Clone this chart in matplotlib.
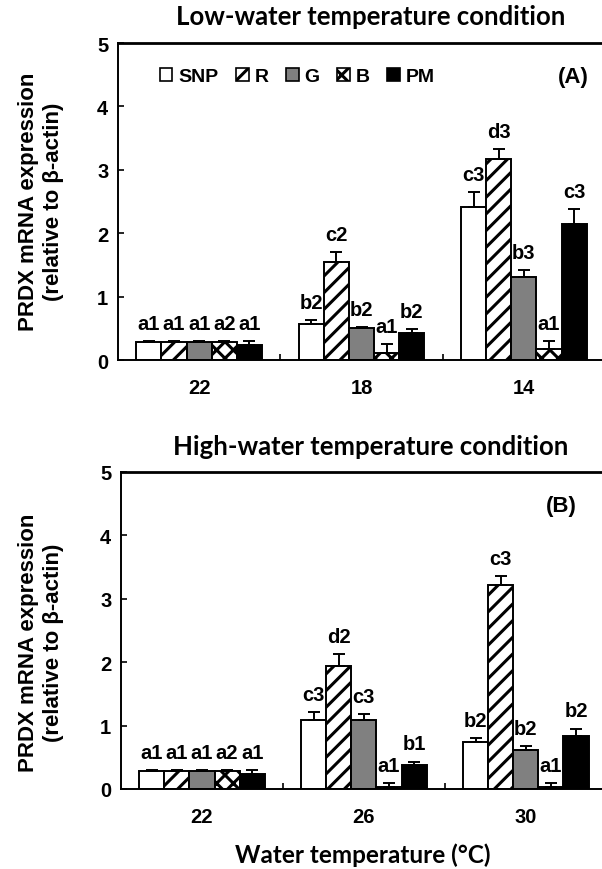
import numpy as np
import matplotlib
matplotlib.use("Agg")
import matplotlib.pyplot as plt
from matplotlib.patches import Patch

plt.rcParams['font.family'] = ['Liberation Sans', 'DejaVu Sans']
plt.rcParams['hatch.linewidth'] = 2.2

series = ['SNP', 'R', 'G', 'B', 'PM']
colors = ['white', 'white', '#808080', 'white', 'black']
hatches = [None, '//', None, 'xx', None]

# Low-water temperature condition (A)
low_temps = ['22', '18', '14']
low_vals = {
    'SNP': [0.28, 0.57, 2.41],
    'R': [0.28, 1.55, 3.17],
    'G': [0.28, 0.50, 1.31],
    'B': [0.28, 0.11, 0.17],
    'PM': [0.24, 0.43, 2.15],
}
low_err = {
    'SNP': [0.02, 0.06, 0.24],
    'R': [0.02, 0.15, 0.16],
    'G': [0.02, 0.02, 0.11],
    'B': [0.02, 0.14, 0.13],
    'PM': [0.06, 0.06, 0.23],
}
low_letters = {
    'SNP': ['a1', 'b2', 'c3'],
    'R': ['a1', 'c2', 'd3'],
    'G': ['a1', 'b2', 'b3'],
    'B': ['a2', 'a1', 'a1'],
    'PM': ['a1', 'b2', 'c3'],
}

# High-water temperature condition (B)
high_temps = ['22', '26', '30']
high_vals = {
    'SNP': [0.28, 1.09, 0.74],
    'R': [0.28, 1.94, 3.22],
    'G': [0.28, 1.09, 0.61],
    'B': [0.28, 0.03, 0.03],
    'PM': [0.24, 0.38, 0.83],
}
high_err = {
    'SNP': [0.02, 0.12, 0.06],
    'R': [0.02, 0.19, 0.14],
    'G': [0.02, 0.09, 0.07],
    'B': [0.02, 0.06, 0.06],
    'PM': [0.06, 0.05, 0.12],
}
high_letters = {
    'SNP': ['a1', 'c3', 'b2'],
    'R': ['a1', 'd2', 'c3'],
    'G': ['a1', 'c3', 'b2'],
    'B': ['a2', 'a1', 'a1'],
    'PM': ['a1', 'b1', 'b2'],
}


def draw_panel(ax, temps, vals, errs, letters, tag, tag_x):
    x = np.arange(len(temps))
    w = 0.155
    for i, s in enumerate(series):
        xs = x + (i - 2) * w
        v = np.array(vals[s])
        e = np.array(errs[s])
        ax.bar(xs, v, w, color=colors[i], edgecolor='black', linewidth=1.4,
               hatch=hatches[i], zorder=2)
        ax.errorbar(xs, v, yerr=[np.zeros_like(e), e], fmt='none', ecolor='black',
                    elinewidth=1.4, capsize=4, capthick=1.4, zorder=3)
        for xi, yi, t in zip(xs, v + e, letters[s]):
            ax.annotate(t, (xi, yi), xytext=(0, 6), textcoords='offset points',
                        ha='center', va='bottom', fontsize=14.5, fontweight='bold')
    ax.set_xlim(-0.5, 2.5)
    ax.set_ylim(0, 5)
    ax.set_yticks(range(6))
    ax.set_xticks(x)
    ax.set_xticklabels(temps)
    ax.set_xticks([0.5, 1.5], minor=True)
    ax.tick_params(axis='x', which='major', length=0, pad=13, labelsize=14.5)
    ax.tick_params(axis='x', which='minor', direction='in', length=4, width=1.2)
    ax.tick_params(axis='y', direction='in', length=4, width=1.2, pad=7, labelsize=14.5)
    for lab in ax.get_xticklabels() + ax.get_yticklabels():
        lab.set_fontweight('bold')
    for sp in ['left', 'bottom']:
        ax.spines[sp].set_linewidth(1.4)
    ax.spines['top'].set_linewidth(2)
    ax.spines['right'].set_visible(False)
    ax.text(tag_x, 0.895, tag, transform=ax.transAxes, ha='center', va='center',
            fontsize=16, fontweight='bold')


fig = plt.figure(figsize=(6.02, 8.70), dpi=100)
ax1 = fig.add_axes([0.196, 0.585, 0.809, 0.3644])
ax2 = fig.add_axes([0.201, 0.092, 0.807, 0.3644])

draw_panel(ax1, low_temps, low_vals, low_err, low_letters, '(A)', 0.934)
draw_panel(ax2, high_temps, high_vals, high_err, high_letters, '(B)', 0.907)

handles = [Patch(facecolor=colors[i], edgecolor='black', hatch=hatches[i], linewidth=1.2)
           for i in range(len(series))]
ax1.legend(handles, series, ncol=5, loc='center left', bbox_to_anchor=(0.07, 0.895),
           frameon=False, handlelength=0.65, handleheight=0.65, handletextpad=0.3,
           columnspacing=0.9, borderaxespad=0, prop={'size': 14, 'weight': 'bold'})

fig.text(0.616, 0.980, 'Low-water temperature condition', ha='center', va='center',
         fontsize=18.5, fontweight='bold', family=['Lato', 'DejaVu Sans'])
fig.text(0.615, 0.486, 'High-water temperature condition', ha='center', va='center',
         fontsize=18.5, fontweight='bold', family=['Lato', 'DejaVu Sans'])
fig.text(0.603, 0.017, 'Water temperature (\u00b0C)', ha='center', va='center',
         fontsize=17.5, fontweight='bold', family=['Lato', 'DejaVu Sans'])

ylab = 'PRDX mRNA expression\n(relative to \u03b2-actin)'
fig.text(0.068, 0.768, ylab, rotation=90, ha='center', va='center', fontsize=16,
         fontweight='bold', linespacing=1.2)
fig.text(0.068, 0.261, ylab, rotation=90, ha='center', va='center', fontsize=16,
         fontweight='bold', linespacing=1.2)

fig.savefig('out.png', dpi=100)
